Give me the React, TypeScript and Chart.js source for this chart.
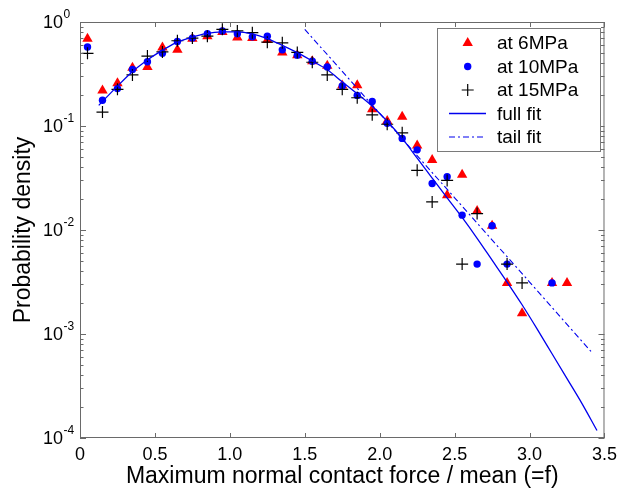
import React, { useEffect, useRef } from 'react';
import { Chart, registerables } from 'chart.js';

Chart.register(...registerables);

const FONT = '"Liberation Sans", Arial, sans-serif';
const AXIS_COLOR = '#6a6a6a';

// ---- ticks ----
const xTicks = [0, 0.5, 1, 1.5, 2, 2.5, 3, 3.5];
const yExponents = [-4, -3, -2, -1, 0];
const yMinorMultipliers = [2, 3, 4, 5, 6, 7, 8, 9];

// ---- at 6MPa ----
const f6X = [0.05, 0.15, 0.25, 0.35, 0.45, 0.55, 0.65, 0.75, 0.85, 0.95,
  1.05, 1.15, 1.25, 1.35, 1.45, 1.55, 1.65, 1.75, 1.85, 1.95,
  2.05, 2.15, 2.25, 2.35, 2.45, 2.55, 2.65, 2.75, 2.85, 2.95, 3.15, 3.25];
const f6Y = [0.69, 0.22, 0.257, 0.364, 0.37, 0.57, 0.54, 0.69, 0.73, 0.8,
  0.71, 0.7, 0.67, 0.51, 0.48, 0.42, 0.38, 0.245, 0.246, 0.145,
  0.112, 0.123, 0.065, 0.047, 0.0216, 0.034, 0.0152, 0.011, 0.0031, 0.00158, 0.0031, 0.0031];

// ---- at 10MPa ----
const f10X = [0.05, 0.15, 0.25, 0.35, 0.45, 0.55, 0.65, 0.75, 0.85, 0.95,
  1.05, 1.15, 1.25, 1.35, 1.45, 1.55, 1.65, 1.75, 1.85, 1.95,
  2.05, 2.15, 2.25, 2.35, 2.45, 2.55, 2.65, 2.75, 2.85, 3.15];
const f10Y = [0.575, 0.177, 0.229, 0.35, 0.415, 0.5, 0.65, 0.7, 0.77, 0.82,
  0.77, 0.72, 0.73, 0.54, 0.48, 0.42, 0.37, 0.243, 0.197, 0.172,
  0.106, 0.076, 0.059, 0.028, 0.0326, 0.0139, 0.0047, 0.011, 0.0047, 0.0031];

// ---- at 15MPa ----
const f15X = [0.05, 0.15, 0.25, 0.35, 0.45, 0.55, 0.65, 0.75, 0.85, 0.95,
  1.05, 1.15, 1.25, 1.35, 1.45, 1.55, 1.65, 1.75, 1.85, 1.95,
  2.05, 2.15, 2.25, 2.35, 2.45, 2.55, 2.65, 2.85, 2.95];
const f15Y = [0.5, 0.136, 0.225, 0.31, 0.47, 0.515, 0.66, 0.7, 0.73, 0.85,
  0.82, 0.79, 0.64, 0.63, 0.51, 0.41, 0.31, 0.225, 0.187, 0.128,
  0.104, 0.086, 0.0375, 0.0186, 0.03, 0.0047, 0.0144, 0.0047, 0.0031];

// ---- full fit ----
const fullX = [0.125, 0.24, 0.34, 0.44, 0.54, 0.64, 0.74, 0.84, 0.95, 1.05,
  1.15, 1.25, 1.35, 1.45, 1.55, 1.65, 1.75, 1.85, 1.95, 2.05,
  2.15, 2.25, 2.35, 2.45, 2.55, 2.65, 2.75, 2.85, 2.95, 3.05,
  3.15, 3.25, 3.35, 3.45];
const fullY = [0.158, 0.234, 0.324, 0.422, 0.525, 0.631, 0.708, 0.773, 0.802, 0.802,
  0.767, 0.692, 0.596, 0.508, 0.422, 0.347, 0.266, 0.204, 0.155, 0.111,
  0.0759, 0.049, 0.0316, 0.0204, 0.0132, 0.00832, 0.00513, 0.00316, 0.00191, 0.00112,
  0.000646, 0.000372, 0.000214, 0.000118];

// ---- tail fit ----
const tailX = [1.5, 2.0, 2.5, 3.0, 3.41];
const tailY = [0.85, 0.132, 0.0204, 0.00316, 0.00068];

const seriesLabels = ['at 6MPa', 'at 10MPa', 'at 15MPa', 'full fit', 'tail fit'];

const toPts = (xs: number[], ys: number[]) => xs.map((x, i) => ({ x, y: ys[i] }));

const framePlugin = {
  id: 'frameTicks',
  afterDraw(chart: any) {
    const { ctx, chartArea, scales } = chart;
    const { left, right, top, bottom } = chartArea;
    const xs = scales.x;
    const ys = scales.y;
    ctx.save();
    ctx.strokeStyle = AXIS_COLOR;
    ctx.lineWidth = 1;
    ctx.strokeRect(left + 0.5, top + 0.5, right - left - 1, bottom - top - 1);
    ctx.beginPath();
    for (const v of xTicks) {
      const px = Math.round(xs.getPixelForValue(v)) + 0.5;
      ctx.moveTo(px, bottom);
      ctx.lineTo(px, bottom - 5);
      ctx.moveTo(px, top);
      ctx.lineTo(px, top + 5);
    }
    for (const e of yExponents) {
      const py = Math.round(ys.getPixelForValue(Math.pow(10, e))) + 0.5;
      ctx.moveTo(left, py);
      ctx.lineTo(left + 6, py);
      ctx.moveTo(right, py);
      ctx.lineTo(right - 6, py);
      if (e < 0) {
        for (const m of yMinorMultipliers) {
          const pm = Math.round(ys.getPixelForValue(m * Math.pow(10, e))) + 0.5;
          ctx.moveTo(left, pm);
          ctx.lineTo(left + 3.5, pm);
          ctx.moveTo(right, pm);
          ctx.lineTo(right - 3.5, pm);
        }
      }
    }
    ctx.stroke();

    // y tick labels 10^e
    ctx.fillStyle = '#000';
    for (const e of yExponents) {
      const py = ys.getPixelForValue(Math.pow(10, e));
      ctx.font = `18px ${FONT}`;
      ctx.textAlign = 'right';
      ctx.textBaseline = 'middle';
      ctx.fillText('10', 63, py + 1);
      ctx.font = `12px ${FONT}`;
      ctx.textAlign = 'left';
      ctx.fillText(String(e), 63.5, py - 7);
    }

    // legend
    const bx = 437, by = 28, bw = 164, bh = 124;
    ctx.fillStyle = '#fff';
    ctx.fillRect(bx, by, bw, bh);
    ctx.strokeStyle = '#7a7a7a';
    ctx.strokeRect(bx + 0.5, by + 0.5, bw - 1, bh - 1);
    const ds = chart.data.datasets;
    const mx = 467.7;
    for (let i = 0; i < ds.length; i++) {
      const d = ds[i];
      const cy = by + 15 + i * 23.5;
      ctx.save();
      if (d.showLine) {
        ctx.strokeStyle = d.borderColor;
        ctx.lineWidth = d.borderWidth;
        ctx.setLineDash(d.borderDash || []);
        ctx.beginPath();
        ctx.moveTo(449, cy);
        ctx.lineTo(486, cy);
        ctx.stroke();
      } else if (d.pointStyle === 'triangle') {
        const r = d.pointRadius;
        ctx.fillStyle = d.backgroundColor;
        ctx.beginPath();
        ctx.moveTo(mx, cy - r);
        ctx.lineTo(mx + r * Math.sin((2 * Math.PI) / 3), cy - r * Math.cos((2 * Math.PI) / 3));
        ctx.lineTo(mx + r * Math.sin((4 * Math.PI) / 3), cy - r * Math.cos((4 * Math.PI) / 3));
        ctx.closePath();
        ctx.fill();
      } else if (d.pointStyle === 'circle') {
        ctx.fillStyle = d.backgroundColor;
        ctx.beginPath();
        ctx.arc(mx, cy, d.pointRadius, 0, Math.PI * 2);
        ctx.fill();
      } else {
        const r = d.pointRadius;
        ctx.strokeStyle = d.borderColor;
        ctx.lineWidth = d.pointBorderWidth;
        ctx.beginPath();
        ctx.moveTo(mx - r, cy);
        ctx.lineTo(mx + r, cy);
        ctx.moveTo(mx, cy - r);
        ctx.lineTo(mx, cy + r);
        ctx.stroke();
      }
      ctx.restore();
      ctx.fillStyle = '#000';
      ctx.font = `19px ${FONT}`;
      ctx.textAlign = 'left';
      ctx.textBaseline = 'middle';
      ctx.fillText(d.label, 497, cy + 1);
    }
    ctx.restore();
  },
};

export default function App() {
  const ref = useRef<HTMLCanvasElement>(null);
  useEffect(() => {
    if (!ref.current) return;
    const chart = new Chart(ref.current, {
      type: 'scatter',
      data: {
        datasets: [
          {
            label: seriesLabels[0],
            data: toPts(f6X, f6Y),
            pointStyle: 'triangle',
            pointRadius: 6,
            backgroundColor: '#ff0000',
            borderColor: '#ff0000',
            pointBorderWidth: 0,
            showLine: false,
            order: 5,
          },
          {
            label: seriesLabels[1],
            data: toPts(f10X, f10Y),
            pointStyle: 'circle',
            pointRadius: 3.7,
            backgroundColor: '#0000ff',
            borderColor: '#0000ff',
            pointBorderWidth: 0,
            showLine: false,
            order: 4,
          },
          {
            label: seriesLabels[2],
            data: toPts(f15X, f15Y),
            pointStyle: 'cross',
            pointRadius: 6,
            backgroundColor: '#000000',
            borderColor: '#000000',
            pointBorderWidth: 1.2,
            showLine: false,
            order: 3,
          },
          {
            label: seriesLabels[3],
            data: toPts(fullX, fullY),
            showLine: true,
            pointRadius: 0,
            borderColor: '#0000ee',
            backgroundColor: '#0000ee',
            borderWidth: 1.3,
            cubicInterpolationMode: 'monotone',
            order: 1,
          } as any,
          {
            label: seriesLabels[4],
            data: toPts(tailX, tailY),
            showLine: true,
            pointRadius: 0,
            borderColor: '#0000ee',
            backgroundColor: '#0000ee',
            borderWidth: 1.1,
            borderDash: [6, 3, 2, 3],
            order: 2,
          } as any,
        ],
      },
      options: {
        animation: false,
        responsive: false,
        maintainAspectRatio: false,
        devicePixelRatio: 1,
        layout: { padding: { top: 22, right: 17, left: 0, bottom: 0 } },
        plugins: {
          legend: { display: false },
          tooltip: { enabled: false },
        },
        scales: {
          x: {
            type: 'linear',
            min: 0,
            max: 3.5,
            afterFit: (s: any) => { s.height = 52; },
            afterBuildTicks: (s: any) => { s.ticks = xTicks.map((v) => ({ value: v })); },
            grid: { display: false, drawTicks: false },
            border: { display: false },
            ticks: {
              color: '#000',
              font: { family: FONT, size: 18 },
              padding: 6,
              maxRotation: 0,
              autoSkip: false,
            },
            title: {
              display: true,
              text: 'Maximum normal contact force / mean (=f)',
              color: '#000',
              font: { family: FONT, size: 23 },
              padding: { top: 0, bottom: 0 },
            },
          },
          y: {
            type: 'logarithmic',
            min: 1e-4,
            max: 1,
            afterFit: (s: any) => { s.width = 80; },
            grid: { display: false, drawTicks: false },
            border: { display: false },
            ticks: { display: false },
            title: {
              display: true,
              text: 'Probability density',
              color: '#000',
              font: { family: FONT, size: 23 },
              padding: { top: 10, bottom: 0 },
            },
          },
        },
      },
      plugins: [framePlugin],
    } as any);
    return () => chart.destroy();
  }, []);
  return (
    <div style={{ position: 'absolute', left: 0, top: 0, width: 623, height: 490, background: '#fff' }}>
      <canvas ref={ref} width={623} height={490} style={{ width: 623, height: 490 }} />
    </div>
  );
}
